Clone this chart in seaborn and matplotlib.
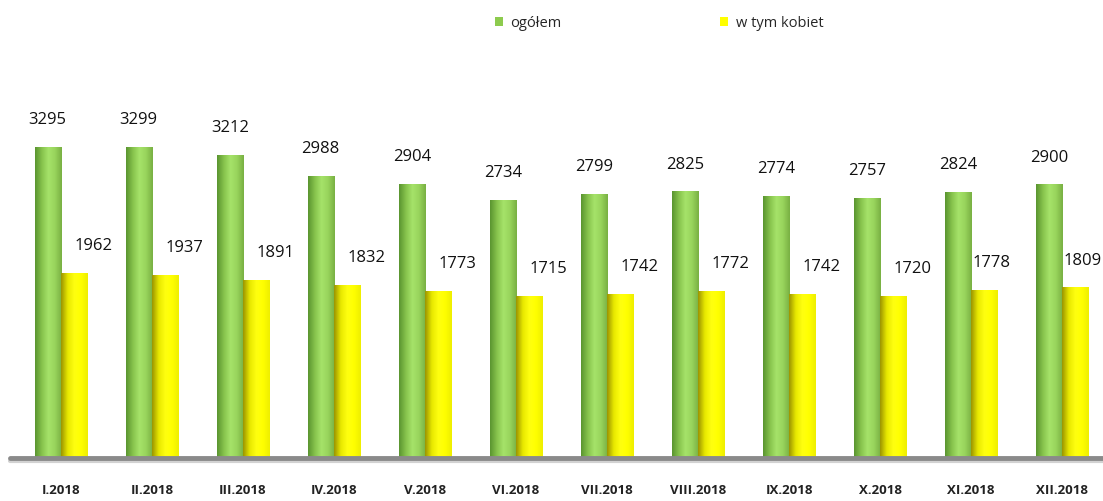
import matplotlib
matplotlib.use("Agg")
import matplotlib.pyplot as plt
import seaborn as sns
import pandas as pd
import numpy as np
from matplotlib.patches import Patch
from matplotlib.colors import LinearSegmentedColormap

months = ["I.2018", "II.2018", "III.2018", "IV.2018", "V.2018", "VI.2018",
          "VII.2018", "VIII.2018", "IX.2018", "X.2018", "XI.2018", "XII.2018"]
ogolem = [3295, 3299, 3212, 2988, 2904, 2734, 2799, 2825, 2774, 2757, 2824, 2900]
kobiet = [1962, 1937, 1891, 1832, 1773, 1715, 1742, 1772, 1742, 1720, 1778, 1809]
series = ["ogółem", "w tym kobiet"]
colors = ["#8DCB4E", "#FFFF00"]

df = pd.DataFrame({
    "month": months * 2,
    "value": ogolem + kobiet,
    "series": [series[0]] * len(months) + [series[1]] * len(months),
})

sns.set_theme(style="white")
plt.rcParams["font.family"] = ["Open Sans", "DejaVu Sans"]

fig = plt.figure(figsize=(11.03, 5.01), dpi=100)
ax = fig.add_axes([0.009, 0.0858, 0.991, 0.864])

sns.barplot(data=df, x="month", y="value", hue="series", order=months,
            hue_order=series, palette=colors, width=0.58, dodge=True,
            saturation=1, ax=ax, legend=False, edgecolor="none")

# cylinder-like horizontal gradients
cmaps = {
    0: LinearSegmentedColormap.from_list("g", ["#5a9530", "#86c24c", "#a6e36a", "#98d45c", "#79b043"]),
    1: LinearSegmentedColormap.from_list("y", ["#9c9400", "#e8e800", "#ffff10", "#ffff00", "#eeee00"]),
}
grad = np.linspace(0, 1, 64).reshape(1, -1)
n = len(months)
for j, p in enumerate(list(ax.patches)[:2 * n]):
    s = 0 if j < n else 1
    x0, y0 = p.get_x(), p.get_y()
    w, h = p.get_width(), p.get_height()
    im = ax.imshow(grad, cmap=cmaps[s], aspect="auto",
                   extent=(x0, x0 + w, y0, y0 + h), zorder=2, interpolation="bicubic")
    im.set_clip_path(p)
ax.set_xlim(-0.56, 11.45)
ax.set_ylim(0, 4587)

# value labels
for i, (g, k) in enumerate(zip(ogolem, kobiet)):
    ax.annotate(str(g), (i - 0.145, g), xytext=(0, 13.5), textcoords="offset points",
                ha="center", va="bottom", fontsize=12, color="#111111", zorder=6)
    dx = 14 if i < n - 2 else 5
    ax.annotate(str(k), (i + 0.145, k), xytext=(dx, 13.5), textcoords="offset points",
                ha="center", va="bottom", fontsize=12, color="#111111", zorder=6)

# baseline with shadow
ax.axhline(0, color="#8a8a8a", lw=3.5, zorder=5, clip_on=False)
ax.axhline(-30, color="#d2d2d2", lw=3, zorder=4, clip_on=False)

for s in ax.spines.values():
    s.set_visible(False)
ax.set_yticks([])
ax.set_xlabel("")
ax.set_ylabel("")
ax.tick_params(axis="x", length=0, pad=19)
for lbl in ax.get_xticklabels():
    lbl.set_fontweight("bold")
    lbl.set_fontsize(9.5)
    lbl.set_color("#222222")

handles = [Patch(facecolor=c, edgecolor="none") for c in colors]
fig.legend(handles, series, loc="center", bbox_to_anchor=(0.5975, 0.953), ncol=2,
           frameon=False, fontsize=10.5, handlelength=0.55, handleheight=0.55,
           handletextpad=0.5, columnspacing=10.9)

fig.savefig("out.png", dpi=100)
